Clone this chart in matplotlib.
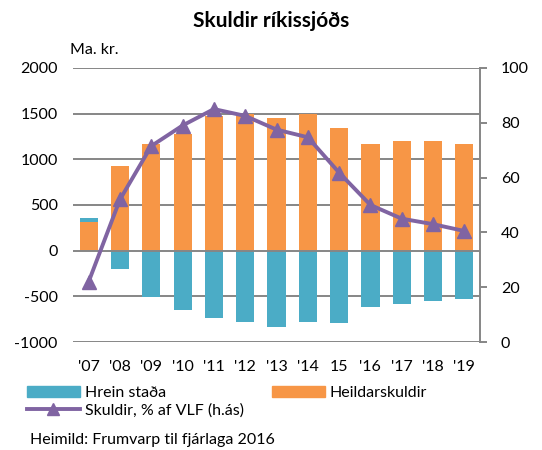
import matplotlib
matplotlib.use("Agg")
import matplotlib.pyplot as plt
from matplotlib.patches import Patch
from matplotlib.lines import Line2D
import numpy as np

plt.rcParams['font.family'] = ['Lato', 'DejaVu Sans']

years = ["'07", "'08", "'09", "'10", "'11", "'12", "'13", "'14", "15", "'16", "'17", "'18", "'19"]
hrein_stada = [358, -201, -511, -646, -737, -778, -832, -785, -792, -613, -584, -555, -529]
heildarskuldir = [310, 928, 1169, 1281, 1471, 1497, 1449, 1497, 1344, 1172, 1197, 1197, 1165]
skuldir_vlf = [22, 52, 71.5, 79, 85, 82.5, 77.5, 74.7, 61.8, 50, 45, 43, 40.5]

left_ticks = [-1000, -500, 0, 500, 1000, 1500, 2000]
right_ticks = [0, 20, 40, 60, 80, 100]

teal = '#4BACC6'
orange = '#F79646'
purple = '#8064A2'
grid = '#868686'

fig = plt.figure(figsize=(5.42, 4.5), dpi=100)
ax = fig.add_axes([0.1347, 0.24, 0.7509, 0.609])
x = np.arange(len(years))
w = 0.58
ax.bar(x, hrein_stada, width=w, color=teal, zorder=2)
ax.bar(x, heildarskuldir, width=w, color=orange, zorder=3)
ax.set_xlim(-0.5, len(years) - 0.5)
ax.set_ylim(-1000, 2000)
ax.set_yticks(left_ticks)
ax.set_yticklabels([str(t) for t in left_ticks], fontsize=11.5)
ax.set_xticks(x)
ax.set_xticklabels(years, fontsize=11.5)
ax.tick_params(axis='x', length=0, pad=13)
ax.tick_params(axis='y', length=0, pad=11)
for s in ['left', 'top', 'right', 'bottom']:
    ax.spines[s].set_visible(False)
for t in left_ticks:
    ax.axhline(t, color=grid, lw=1.4, zorder=4 if t == 0 else 1)

ax2 = ax.twinx()
ax2.set_ylim(0, 100)
ax2.set_yticks(right_ticks)
ax2.set_yticklabels([str(t) for t in right_ticks], fontsize=11.5)
ax2.plot(x, skuldir_vlf, color=purple, lw=2.8, marker='^', markersize=10, zorder=5)
for s in ['left', 'top', 'bottom']:
    ax2.spines[s].set_visible(False)
ax2.spines['right'].set_color(grid)
ax2.spines['right'].set_linewidth(1.4)
ax2.tick_params(axis='y', length=5, width=1.4, color=grid, pad=10, direction='out')

fig.text(0.5, 0.953, 'Skuldir ríkissjóðs', ha='center', va='center', fontsize=15, fontweight='bold')
fig.text(0.13, 0.888, 'Ma. kr.', ha='left', va='center', fontsize=11.5)

handles = [Patch(color=teal), Line2D([], [], color=purple, lw=2.8, marker='^', markersize=9),
           Patch(color=orange)]
labels = ['Hrein staða', 'Skuldir, % af VLF (h.ás)', 'Heildarskuldir']
fig.legend(handles, labels, loc='upper left', bbox_to_anchor=(0.05, 0.142), ncol=2,
           frameon=False, fontsize=11.5, handlelength=3.3, handleheight=0.6, columnspacing=1.8,
           labelspacing=0.2, handletextpad=0.3, borderaxespad=0, borderpad=0)
fig.text(0.055, 0.022, 'Heimild: Frumvarp til fjárlaga 2016', ha='left', va='center', fontsize=11.5)

fig.savefig('out.png', dpi=100)
